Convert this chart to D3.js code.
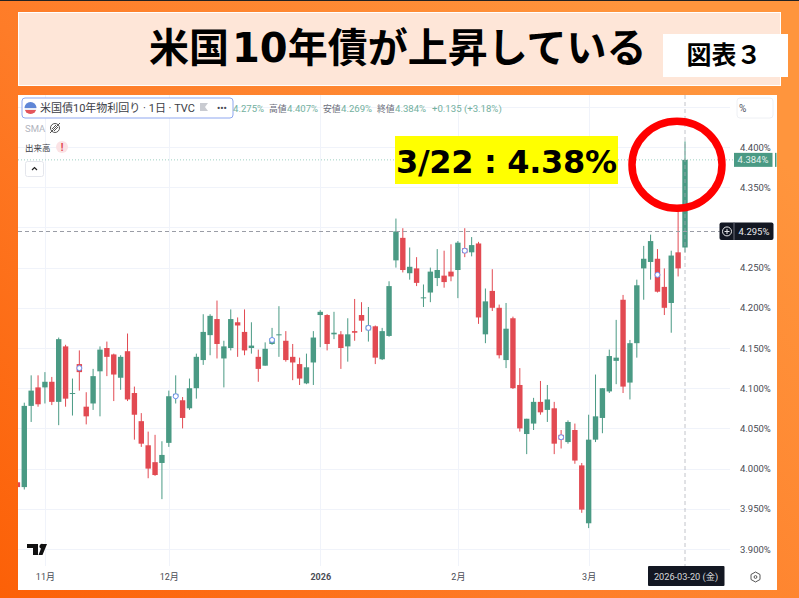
<html>
<head>
<title>US 10Y yield</title>
<meta charset="utf-8">
<style type="text/css">

* {
  margin: 0;
  padding: 0;
}

body {
  width: 799px;
  height: 598px;
  overflow: hidden;
  background: #fff;
}

svg {
  display: block;
}

text {
  font-family: Roboto, "Noto Sans CJK JP", sans-serif;
}

text.head {
  font-family: "DejaVu Sans", "Noto Sans CJK JP", sans-serif;
  font-weight: bold;
  fill: #000;
}

.tick line, .domain {
  display: none;
}

</style>
<script type="text/javascript" src="https://cdn.jsdelivr.net/npm/d3@7/dist/d3.min.js"></script>
</head>
<body>
<div id="chart"></div>
<script type="text/javascript">
// candles are numbered by trading session, the first one is cut off by the panel edge
var opens = [
  3.983, 3.977, 4.078, 4.101, 4.101, 4.108, 4.083, 4.152, 4.093, 4.130,
  4.077, 4.081, 4.121, 4.150, 4.142, 4.113, 4.146, 4.094, 4.059, 4.029,
  4.008, 4.007, 4.032, 4.089, 4.085, 4.075, 4.100, 4.135, 4.166, 4.186,
  4.137, 4.150, 4.182, 4.170, 4.150, 4.139, 4.128, 4.155, 4.166, 4.159,
  4.139, 4.130, 4.106, 4.132, 4.191, 4.191, 4.167, 4.167, 4.152, 4.171,
  4.191, 4.172, 4.177, 4.136, 4.165, 4.259, 4.287, 4.243, 4.249, 4.212,
  4.219, 4.237, 4.240, 4.245, 4.247, 4.274, 4.269, 4.280, 4.167, 4.221,
  4.200, 4.135, 4.187, 4.104, 4.043, 4.056, 4.083, 4.073, 4.075, 4.042,
  4.033, 4.048, 4.004, 3.932, 4.036, 4.063, 4.096, 4.134, 4.210, 4.107,
  4.156, 4.249, 4.257, 4.261, 4.226, 4.206, 4.269, 4.275
];
var highs = [
  3.983, 4.082, 4.116, 4.116, 4.120, 4.114, 4.163, 4.154, 4.112, 4.147,
  4.095, 4.124, 4.152, 4.158, 4.143, 4.141, 4.168, 4.102, 4.069, 4.046,
  4.042, 4.034, 4.097, 4.116, 4.089, 4.112, 4.143, 4.192, 4.192, 4.209,
  4.159, 4.198, 4.188, 4.198, 4.182, 4.148, 4.157, 4.175, 4.202, 4.171,
  4.155, 4.138, 4.143, 4.171, 4.197, 4.192, 4.195, 4.171, 4.187, 4.211,
  4.207, 4.201, 4.178, 4.175, 4.233, 4.311, 4.299, 4.275, 4.263, 4.229,
  4.250, 4.273, 4.271, 4.279, 4.283, 4.299, 4.288, 4.282, 4.224, 4.248,
  4.204, 4.206, 4.189, 4.125, 4.062, 4.088, 4.109, 4.104, 4.083, 4.048,
  4.060, 4.056, 4.007, 4.067, 4.117, 4.100, 4.148, 4.185, 4.216, 4.160,
  4.235, 4.277, 4.291, 4.273, 4.249, 4.271, 4.324, 4.407
];
var lows = [
  3.977, 3.974, 4.058, 4.077, 4.081, 4.079, 4.054, 4.077, 4.066, 4.097,
  4.055, 4.073, 4.065, 4.115, 4.084, 4.098, 4.084, 4.036, 4.027, 3.988,
  3.991, 3.962, 4.027, 4.081, 4.050, 4.073, 4.087, 4.129, 4.141, 4.137,
  4.101, 4.147, 4.139, 4.141, 4.143, 4.108, 4.128, 4.154, 4.139, 4.133,
  4.110, 4.104, 4.105, 4.104, 4.151, 4.147, 4.161, 4.124, 4.133, 4.159,
  4.170, 4.158, 4.130, 4.135, 4.164, 4.250, 4.244, 4.235, 4.227, 4.201,
  4.207, 4.227, 4.225, 4.233, 4.212, 4.263, 4.264, 4.180, 4.156, 4.196,
  4.137, 4.125, 4.099, 4.046, 4.018, 4.048, 4.067, 4.058, 4.018, 4.025,
  4.031, 4.006, 3.945, 3.926, 4.033, 4.044, 4.094, 4.105, 4.094, 4.086,
  4.138, 4.210, 4.235, 4.219, 4.191, 4.169, 4.239, 4.269
];
var closes = [
  3.977, 4.078, 4.097, 4.080, 4.108, 4.083, 4.161, 4.087, 4.094, 4.120,
  4.065, 4.115, 4.148, 4.139, 4.117, 4.139, 4.086, 4.067, 4.031, 4.000,
  3.992, 4.017, 4.090, 4.093, 4.063, 4.100, 4.139, 4.170, 4.190, 4.155,
  4.152, 4.186, 4.178, 4.147, 4.153, 4.124, 4.149, 4.162, 4.167, 4.135,
  4.132, 4.112, 4.126, 4.163, 4.195, 4.155, 4.169, 4.150, 4.167, 4.169,
  4.184, 4.178, 4.138, 4.171, 4.227, 4.295, 4.247, 4.251, 4.231, 4.213,
  4.245, 4.247, 4.232, 4.239, 4.281, 4.268, 4.278, 4.188, 4.208, 4.200,
  4.141, 4.174, 4.100, 4.050, 4.062, 4.083, 4.070, 4.086, 4.031, 4.036,
  4.058, 4.010, 3.949, 4.036, 4.065, 4.100, 4.140, 4.138, 4.102, 4.156,
  4.228, 4.261, 4.283, 4.220, 4.200, 4.265, 4.249, 4.384
];
// small blue event rings sitting on some candles
var eventSessions = [9, 23, 37, 51, 65, 79, 93];
var eventValues = [4.125, 4.090, 4.160, 4.175, 4.271, 4.039, 4.241];

var monthSessions = [4, 22, 44, 64, 83];
var monthLabels = ["11月", "12月", "2026", "2月", "3月"];
var priceTicks = [3.9, 3.95, 4.0, 4.05, 4.1, 4.15, 4.2, 4.25, 4.35, 4.4];
var gridPrices = [3.9, 3.95, 4.0, 4.05, 4.1, 4.15, 4.2, 4.25, 4.3, 4.35, 4.4, 4.45];
var lastClose = 4.384;
var crossPrice = 4.295;
var crossSession = 97;
var crossDate = "2026-03-20 (金)";

var legendParts = [
  ["4.275%", 233, "v"], ["高値", 269, "k"], ["4.407%", 287, "v"], ["安値", 323, "k"],
  ["4.269%", 341, "v"], ["終値", 377, "k"], ["4.384%", 395, "v"], ["+0.135 (+3.18%)", 432, "v"]
];

var width = 799, height = 598;
var up = "#4a9a84", down = "#e24a52";

var svg = d3.select("#chart").append("svg")
  .attr("width", width)
  .attr("height", height);

var defs = svg.append("defs");
var grad = defs.append("linearGradient").attr("id", "bg")
  .attr("x1", "0%").attr("y1", "100%").attr("x2", "100%").attr("y2", "30%");
grad.append("stop").attr("offset", "0%").attr("stop-color", "#fc6007");
grad.append("stop").attr("offset", "45%").attr("stop-color", "#fe7c28");
grad.append("stop").attr("offset", "100%").attr("stop-color", "#ff953d");

svg.append("rect").attr("width", width).attr("height", height).attr("fill", "url(#bg)");
svg.append("rect").attr("width", width).attr("height", 1).attr("fill", "#222");

// title band
svg.append("rect").attr("x", 18.5).attr("y", 12.5).attr("width", 762).attr("height", 73)
  .attr("fill", "#fee6d8").attr("stroke", "#fff");
var title = svg.append("text").attr("class", "head")
  .attr("x", 149).attr("y", 62)
  .attr("font-size", 40);
title.append("tspan").attr("font-family", "'Noto Sans CJK JP'").text("米国");
title.append("tspan").attr("dx", 3).text("10");
title.append("tspan").attr("font-family", "'Noto Sans CJK JP'").text("年債が上昇している");
svg.append("rect").attr("x", 663).attr("y", 34).attr("width", 125).attr("height", 43).attr("fill", "#fff");
svg.append("text").attr("class", "head")
  .attr("x", 724).attr("y", 64)
  .attr("text-anchor", "middle")
  .attr("font-family", "'Noto Sans CJK JP'")
  .attr("style", "font-family:'Noto Sans CJK JP'")
  .attr("font-size", 25)
  .text("図表３");

// chart panel
svg.append("rect").attr("x", 18).attr("y", 95).attr("width", 759).attr("height", 495).attr("fill", "#fff");

defs.append("clipPath").attr("id", "plotClip").append("rect")
  .attr("x", 18).attr("y", 95).attr("width", 712).attr("height", 471);

var x = d3.scaleLinear().domain([0, crossSession]).range([17.4, 685]);
var y = d3.scaleLinear().domain([3.9, 4.4]).range([549, 147]);
var sessions = d3.range(opens.length);

var grid = svg.append("g").attr("stroke", "#f0f3fa").attr("stroke-width", 1);
grid.selectAll("line.h").data(gridPrices).enter().append("line")
  .attr("class", "h")
  .attr("x1", 18).attr("x2", 730)
  .attr("y1", function(d) { return Math.round(y(d)) + 0.5; })
  .attr("y2", function(d) { return Math.round(y(d)) + 0.5; });
grid.selectAll("line.v").data(monthSessions).enter().append("line")
  .attr("class", "v")
  .attr("y1", 95).attr("y2", 566)
  .attr("x1", function(d) { return Math.round(x(d)) + 0.5; })
  .attr("x2", function(d) { return Math.round(x(d)) + 0.5; });

// last price dotted line
svg.append("line")
  .attr("x1", 18).attr("x2", 734)
  .attr("y1", y(lastClose)).attr("y2", y(lastClose))
  .attr("stroke", "#9fd0c2").attr("stroke-width", 1).attr("stroke-dasharray", "1 2");

var plot = svg.append("g").attr("clip-path", "url(#plotClip)");

plot.selectAll("line.wick").data(sessions).enter().append("line")
  .attr("class", "wick")
  .attr("x1", function(i) { return x(i); })
  .attr("x2", function(i) { return x(i); })
  .attr("y1", function(i) { return y(highs[i]); })
  .attr("y2", function(i) { return y(lows[i]); })
  .attr("stroke", function(i) { return closes[i] >= opens[i] ? up : down; })
  .attr("stroke-width", 1);

plot.selectAll("rect.body").data(sessions).enter().append("rect")
  .attr("class", "body")
  .attr("x", function(i) { return x(i) - 2.7; })
  .attr("width", 5.4)
  .attr("y", function(i) { return y(Math.max(opens[i], closes[i])); })
  .attr("height", function(i) { return Math.max(1, Math.abs(y(opens[i]) - y(closes[i]))); })
  .attr("fill", function(i) { return closes[i] >= opens[i] ? up : down; });

plot.selectAll("circle.event").data(eventSessions).enter().append("circle")
  .attr("class", "event")
  .attr("cx", function(d) { return x(d); })
  .attr("cy", function(d, i) { return y(eventValues[i]); })
  .attr("r", 2.5)
  .attr("fill", "#fff")
  .attr("stroke", "#6f8ff0")
  .attr("stroke-width", 1);

// crosshair
svg.append("line")
  .attr("x1", 18).attr("x2", 720)
  .attr("y1", Math.round(y(crossPrice)) + 0.5).attr("y2", Math.round(y(crossPrice)) + 0.5)
  .attr("stroke", "#9a9da6").attr("stroke-width", 1).attr("stroke-dasharray", "4 3");
svg.append("line")
  .attr("x1", x(crossSession)).attr("x2", x(crossSession))
  .attr("y1", 95).attr("y2", 566)
  .attr("stroke", "#a8abb4").attr("stroke-width", 1).attr("stroke-dasharray", "4 3")
  .attr("stroke-opacity", 0.7);

// price axis
var yAxis = d3.axisRight(y)
  .tickValues(priceTicks)
  .tickSize(0)
  .tickFormat(function(d) { return d3.format(".3f")(d) + "%"; });
svg.append("g")
  .attr("transform", "translate(735,0)")
  .call(yAxis)
  .call(function(g) {
    g.selectAll("text").attr("x", 5).attr("font-size", 9.5)
      .attr("font-family", "Roboto, sans-serif").attr("fill", "#4a4c55");
  });

svg.append("rect").attr("x", 734).attr("y", y(lastClose) - 7).attr("width", 38.5).attr("height", 14).attr("fill", up);
svg.append("rect").attr("x", 775).attr("y", y(lastClose) - 7).attr("width", 1.5).attr("height", 14).attr("fill", up);
svg.append("text")
  .attr("x", 753).attr("y", y(lastClose) + 3.3)
  .attr("text-anchor", "middle")
  .attr("font-size", 9.5).attr("fill", "#e4f1ed")
  .text(d3.format(".3f")(lastClose) + "%");

// crosshair price tag
svg.append("rect").attr("x", 719.5).attr("y", y(crossPrice) - 9).attr("width", 54).attr("height", 17.5).attr("rx", 2).attr("fill", "#131722");
svg.append("line").attr("x1", 734).attr("x2", 734).attr("y1", y(crossPrice) - 9).attr("y2", y(crossPrice) + 8.5).attr("stroke", "#6a6d78");
svg.append("circle").attr("cx", 727).attr("cy", y(crossPrice)).attr("r", 4.5).attr("fill", "none").attr("stroke", "#e8e8ea");
svg.append("path").attr("d", "M724.5,231.5h5M727,229v5").attr("stroke", "#e8e8ea");
svg.append("text")
  .attr("x", 754).attr("y", y(crossPrice) + 3.3)
  .attr("text-anchor", "middle")
  .attr("font-size", 9.5).attr("fill", "#e8e8ea")
  .text(d3.format(".3f")(crossPrice) + "%");

// time axis
var xAxis = d3.axisBottom(x)
  .tickValues(monthSessions)
  .tickSize(0)
  .tickFormat(function(d, i) { return monthLabels[i]; });
svg.append("g")
  .attr("transform", "translate(0,567)")
  .call(xAxis)
  .call(function(g) {
    g.selectAll("text").attr("y", 7).attr("dy", "0.71em").attr("font-size", 9)
      .attr("font-family", "Roboto, 'Noto Sans CJK JP', sans-serif")
      .attr("fill", "#4a4c55")
      .attr("font-weight", function(d, i) { return monthLabels[i] == "2026" ? "bold" : "normal"; });
  });

svg.append("rect").attr("x", 648).attr("y", 566).attr("width", 76.5).attr("height", 20).attr("rx", 1).attr("fill", "#131722");
svg.append("text")
  .attr("x", 686).attr("y", 580)
  .attr("text-anchor", "middle")
  .attr("font-size", 9.2).attr("fill", "#d8d9dc")
  .text(crossDate);

// settings hexagon at the corner of the axes
svg.append("path").attr("d", "M755.5,572l4.5,2.5v5l-4.5,2.5l-4.5,-2.5v-5z").attr("fill", "none").attr("stroke", "#555");
svg.append("circle").attr("cx", 755.5).attr("cy", 577).attr("r", 1.4).attr("fill", "none").attr("stroke", "#555");

// % button
svg.append("rect").attr("x", 737).attr("y", 98).attr("width", 36).attr("height", 20).attr("rx", 3)
  .attr("fill", "#fff").attr("stroke", "#eef0f4");
svg.append("text").attr("x", 739).attr("y", 112).attr("font-size", 10).attr("fill", "#50535e").text("%");

// legend
svg.append("rect").attr("x", 22).attr("y", 98).attr("width", 211).attr("height", 20).attr("rx", 3)
  .attr("fill", "#fff").attr("stroke", "#8ea7f0");
defs.append("clipPath").attr("id", "flagClip").append("circle").attr("cx", 30.5).attr("cy", 108).attr("r", 6);
var flag = svg.append("g").attr("clip-path", "url(#flagClip)");
flag.append("rect").attr("x", 24).attr("y", 101).attr("width", 13).attr("height", 14).attr("fill", "#e9ecf5");
flag.append("rect").attr("x", 24).attr("y", 102).attr("width", 13).attr("height", 6).attr("fill", "#5f86d6");
flag.append("rect").attr("x", 24).attr("y", 110).attr("width", 13).attr("height", 5).attr("fill", "#e4555b");

svg.append("text")
  .attr("x", 40).attr("y", 112)
  .attr("font-size", 11).attr("fill", "#3b3d46")
  .text("米国債10年物利回り · 1日 · TVC");
svg.append("path").attr("d", "M200,103h8l-3,4l3,4h-8z").attr("fill", "#c9cbd1");
svg.append("text").attr("x", 217).attr("y", 111).attr("font-size", 9).attr("font-weight", "bold").attr("fill", "#4a4c55").text("•••");

svg.append("g").selectAll("text").data(legendParts).enter().append("text")
  .attr("x", function(d) { return d[1]; })
  .attr("y", 112)
  .attr("font-size", function(d) { return d[2] == "v" ? 9.6 : 8.8; })
  .attr("fill", function(d) { return d[2] == "v" ? "#73b09e" : "#6a6d78"; })
  .text(function(d) { return d[0]; });

svg.append("text").attr("x", 25).attr("y", 132).attr("font-size", 9.5).attr("fill", "#b2b5be").text("SMA");
svg.append("circle").attr("cx", 55).attr("cy", 128).attr("r", 4.5).attr("fill", "none").attr("stroke", "#555");
svg.append("path").attr("d", "M50,133L60,123M52,129L56,125M54,131L58,127").attr("stroke", "#555");
svg.append("text").attr("x", 25).attr("y", 151).attr("font-size", 8.5).attr("fill", "#3b3d46").text("出来高");
svg.append("circle").attr("cx", 62).attr("cy", 147).attr("r", 6).attr("fill", "#fbe3e5");
svg.append("text").attr("x", 62).attr("y", 151).attr("text-anchor", "middle").attr("font-size", 10).attr("font-weight", "bold").attr("fill", "#e2434c").text("!");
svg.append("rect").attr("x", 25.5).attr("y", 161.5).attr("width", 18).attr("height", 15).attr("rx", 2)
  .attr("fill", "#fff").attr("stroke", "#e4e6ec");
svg.append("path").attr("d", "M32,170l2.5,-2.5l2.5,2.5").attr("fill", "none").attr("stroke", "#222").attr("stroke-width", 1.2);

// TradingView mark
svg.append("path").attr("d", "M27,544h11v11h-5v-7h-6zM43,544h4l-4.5,11h-4l2.5,-6.5a2.4,2.4 0 1 1 2,-4.5z").attr("fill", "#111");

// callouts
svg.append("rect").attr("x", 395).attr("y", 136).attr("width", 223).attr("height", 48).attr("fill", "#ffff00");
svg.append("text").attr("class", "head")
  .attr("x", 396).attr("y", 172.5)
  .attr("font-size", 32)
  .attr("textLength", 221)
  .text("3/22 : 4.38%");
svg.append("ellipse")
  .attr("cx", 677).attr("cy", 164.7)
  .attr("rx", 45).attr("ry", 43.5)
  .attr("fill", "none").attr("stroke", "#ff0000").attr("stroke-width", 7.5);
</script>
</body>
</html>
